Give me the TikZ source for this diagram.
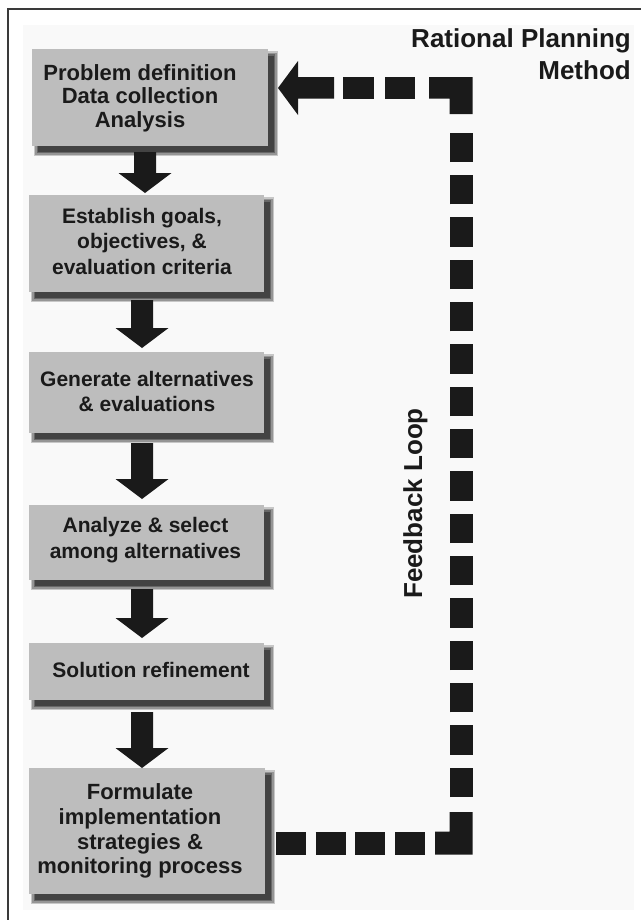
\documentclass[tikz,border=0pt]{standalone}
\usepackage{fontspec}
\setmainfont{Liberation Sans}
\usetikzlibrary{calc}
\definecolor{boxfill}{HTML}{BDBDBD}
\definecolor{ink}{HTML}{1A1A1A}
\definecolor{framec}{HTML}{3A3A3A}
\definecolor{paper}{HTML}{F9F9F9}
\pgfdeclarelayer{bgzero}
\pgfdeclarelayer{shadowlayer}
\pgfsetlayers{bgzero,shadowlayer,main}
\newcommand\flowarrow[5]{%
  \fill[ink] let \p1=(#1.south), \p2=(#2.north) in
    (#3bp-11bp,\y1-#4bp) -- (#3bp+11bp,\y1-#4bp) -- (#3bp+11bp,\y2+#5bp+20bp)
    -- (#3bp+26.5bp,\y2+#5bp+20bp) -- (#3bp,\y2+#5bp) -- (#3bp-26.5bp,\y2+#5bp+20bp)
    -- (#3bp-11bp,\y2+#5bp+20bp) -- cycle;}
\newcommand\boxshadow[1]{%
  \begin{pgfonlayer}{shadowlayer}
  \foreach \e/\o in {4/0.2,2.5/0.25,1/0.3,-0.5/0.35}{%
    \fill[black,opacity=\o] ($(#1.north west)+(6-\e,6-\e)$) rectangle ($(#1.south east)+(6+\e,6+\e)$);}
  \end{pgfonlayer}}
\tikzset{
  boxnode/.style={rectangle, fill=boxfill, inner sep=0pt, outer sep=0pt},
  boxtext/.style={text=ink, align=center, inner sep=0pt, font=\bfseries\fontsize{21bp}{25.5bp}\selectfont},
  fbline/.style={draw=ink, line width=23bp},
}
\begin{document}
\begin{tikzpicture}[x=1bp,y=-1bp]
\useasboundingbox (0,0) rectangle (641,920);
\begin{pgfonlayer}{bgzero}
  \fill[white] (0,0) rectangle (641,920);
  \fill[paper] (23,25) rectangle (634,910);
  \draw[framec, line width=1.6bp] (8,920) -- (8,9) -- (641,9);
\end{pgfonlayer}

% boxes
\node[boxnode, minimum width=236bp, minimum height=97bp] (b1) at (150,97.5) {};
\node[boxnode, minimum width=235bp, minimum height=97bp] (b2) at (146.5,243.5) {};
\node[boxnode, minimum width=235bp, minimum height=81bp] (b3) at (146.5,392.5) {};
\node[boxnode, minimum width=235bp, minimum height=75bp] (b4) at (146.5,542.5) {};
\node[boxnode, minimum width=235bp, minimum height=57bp] (b5) at (146.5,671.5) {};
\node[boxnode, minimum width=236bp, minimum height=126bp] (b6) at (147,831) {};
\boxshadow{b1}\boxshadow{b2}\boxshadow{b3}\boxshadow{b4}\boxshadow{b5}\boxshadow{b6}

% texts
\node[boxtext, font=\bfseries\fontsize{22bp}{23.5bp}\selectfont] (t1) at ($(b1.center)+(-10,0.5)$) {Problem definition\\Data collection\\Analysis};
\node[boxtext] (t2) at ($(b2.center)+(-4.5,-2.5)$) {Establish goals,\\objectives, \&\\evaluation criteria};
\node[boxtext, font=\bfseries\fontsize{21bp}{25bp}\selectfont] (t3) at ($(b3.center)+(0.5,-1.5)$) {Generate alternatives\\\& evaluations};
\node[boxtext, font=\bfseries\fontsize{21bp}{26bp}\selectfont] (t4) at ($(b4.center)+(-1,-2)$) {Analyze \& select\\among alternatives};
\node[boxtext] (t5) at ($(b5.center)+(4.5,-1.5)$) {Solution refinement};
\node[boxtext, font=\bfseries\fontsize{22bp}{24.7bp}\selectfont] (t6) at ($(b6.center)+(-7,0)$) {Formulate\\implementation\\strategies \&\\monitoring process};

% flow arrows
\flowarrow{b1}{b2}{145}{6}{2}
\flowarrow{b2}{b3}{142}{8}{4}
\flowarrow{b3}{b4}{142}{10}{6}
\flowarrow{b4}{b5}{142}{9}{5}
\flowarrow{b5}{b6}{142}{12}{0}

% feedback loop
\coordinate (fbA) at ($(b6.east)+(11,12)$);
\coordinate (fbB) at (425,843);
\draw[fbline, dash pattern=on 30bp off 9.67bp] (fbA) -- (fbB);
\fill[ink] (435,831.5) -- (449.5,831.5) -- (449.5,812) -- (472.5,812) -- (472.5,854.5) -- (435,854.5) -- cycle;
\coordinate (fbC) at (461,797);
\coordinate (fbD) at (461,132);
\draw[fbline, dash pattern=on 29.5bp off 12.83bp] (fbC) -- (fbD);
\fill[ink] (429,77) -- (472.5,77) -- (472.5,114) -- (449.5,114) -- (449.5,98.5) -- (429,98.5) -- cycle;
\coordinate (fbE) at (415,87.75);
\coordinate (fbF) at (343,87.75);
\draw[draw=ink, line width=21.5bp, dash pattern=on 30.5bp off 11bp] (fbE) -- (fbF);
\coordinate (fbEnd) at ($(b1.east)+(10,-9.5)$);
\fill[ink] (334,77) -- (298,77) -- (298,61) -- (fbEnd) -- (298,115) -- (298,98.5) -- (334,98.5) -- cycle;

% labels
\node[anchor=north east, align=right, inner sep=0pt, text=ink, font=\bfseries\fontsize{26bp}{32bp}\selectfont] (title) at (631,28) {Rational Planning\\Method};
\node[rotate=90, anchor=base, inner sep=0pt, text=ink, font=\bfseries\fontsize{26bp}{30bp}\selectfont] (fbl) at (422,503.5) {Feedback Loop};
\end{tikzpicture}
\end{document}
